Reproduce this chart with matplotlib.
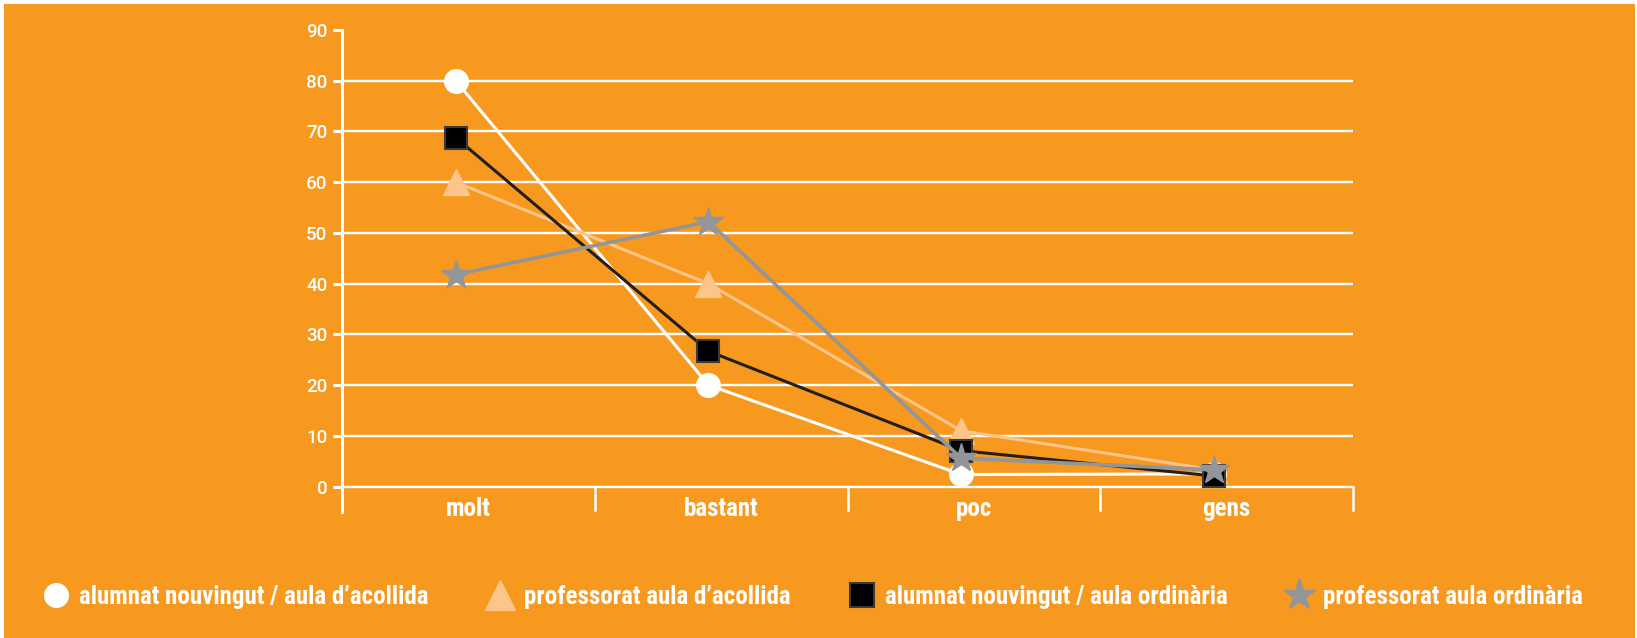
import matplotlib.pyplot as plt
from matplotlib.lines import Line2D
from matplotlib.patches import Rectangle

categories = ["molt", "bastant", "poc", "gens"]
alumnat_acollida = [80, 20, 2.4, 2.5]
professorat_acollida = [60, 40, 11, 3.3]
alumnat_ordinaria = [68.8, 26.7, 7.1, 2.1]
professorat_ordinaria = [41.8, 52.2, 5.6, 3.3]
yticks = [0, 10, 20, 30, 40, 50, 60, 70, 80, 90]

orange = "#F7991F"
narrow = ["Roboto Condensed", "Open Sans Condensed", "DejaVu Sans"]

fig = plt.figure(figsize=(16.37, 6.38), dpi=100, facecolor="white")
# orange panel with a thin white frame on top / left / right
fig.patches.append(Rectangle((4 / 1637, 0), 1 - 6 / 1637, 1 - 4 / 638,
                             transform=fig.transFigure, facecolor=orange,
                             edgecolor="none", zorder=-1))

ax = fig.add_axes([342 / 1637, 1 - 512 / 638, 1011 / 1637, (512 - 30) / 638])
ax.set_facecolor("none")

x = list(range(len(categories)))
# points sit a little left of the category centre in the original
xp = [i - 0.05 for i in x]

# series
ax.plot(xp, alumnat_acollida, color="white", lw=2.2, marker="o", ms=17,
        mfc="white", mec="white", zorder=3)
ax.plot(xp, professorat_acollida, color="#FDC589", lw=2.2, marker="^", ms=19,
        mfc="#FDC589", mec="#FDC589", zorder=4)
ax.plot(xp, alumnat_ordinaria, color="#231F20", lw=2.2, marker="s", ms=16,
        mfc="black", mec="#3a3a3a", mew=1.5, zorder=5)
ax.plot(xp, professorat_ordinaria, color="#939598", lw=2.6, marker="*", ms=22,
        mfc="#939598", mec="#939598", zorder=6)

ax.set_xlim(-0.5, len(categories) - 0.5)
ax.set_ylim(-5, 90)

# axis styling
for side in ["top", "right", "bottom"]:
    ax.spines[side].set_visible(False)
ax.spines["left"].set_color("white")
ax.spines["left"].set_linewidth(2.2)

ax.set_yticks(yticks)
ax.set_yticklabels([str(v) for v in yticks], family=["Roboto", "DejaVu Sans"],
                   fontweight="medium")
ax.tick_params(axis="y", colors="white", length=6.5, width=2.2, pad=4,
               labelsize=13.5)
ax.yaxis.grid(True, color="white", lw=1.7)
ax.get_ygridlines()[-1].set_visible(False)
ax.set_axisbelow(True)

ax.set_xticks(x)
ax.set_xticklabels(categories, family=narrow, fontweight="bold", fontsize=18,
                   color="white")
ax.tick_params(axis="x", length=0, pad=-10.5)

# category dividers below zero line
for b in range(1, len(categories) + 1):
    ax.plot([b - 0.5, b - 0.5], [-4.6, 0], color="white", lw=1.8,
            clip_on=False, zorder=2)

# legend
handles = [
    Line2D([], [], ls="none", marker="o", ms=17, mfc="white", mec="white"),
    Line2D([], [], ls="none", marker="^", ms=22, mfc="#FDC589", mec="#FDC589"),
    Line2D([], [], ls="none", marker="s", ms=17, mfc="black", mec="#3a3a3a",
           mew=1.5),
    Line2D([], [], ls="none", marker="*", ms=24, mfc="#939598", mec="#939598"),
]
labels = ["alumnat nouvingut / aula d\u2019acollida",
          "professorat aula d\u2019acollida",
          "alumnat nouvingut / aula ordin\u00e0ria",
          "professorat aula ordin\u00e0ria"]
leg = fig.legend(handles, labels, ncol=4, frameon=False, loc="center left",
                 bbox_to_anchor=(18 / 1637, 1 - 597 / 638),
                 handlelength=1.2, handletextpad=0.35, columnspacing=2.25,
                 prop={"family": narrow, "weight": "bold", "size": 18})
for t in leg.get_texts():
    t.set_color("white")

fig.savefig("out.png", dpi=100, facecolor=fig.get_facecolor())
